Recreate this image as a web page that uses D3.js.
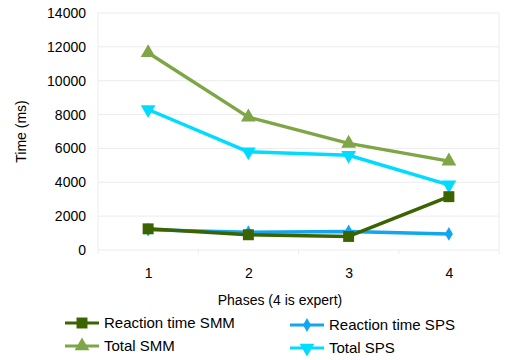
<!DOCTYPE html>
<html>
<head>
<meta charset="utf-8">
<script src="https://d3js.org/d3.v7.min.js"></script>
<style>
  body { margin: 0; background: #fff; }
  svg { display: block; font-family: "Liberation Sans", Arial, sans-serif; }
</style>
</head>
<body>
<div id="chart"></div>
<script>
'use strict';

// ─── DATA ────────────────────────────────────────────────────
var phases = [1, 2, 3, 4];
var yTicks = [0, 2000, 4000, 6000, 8000, 10000, 12000, 14000];
var reactionSMM = [1250, 900, 800, 3150];
var totalSMM = [11650, 7850, 6300, 5250];
var reactionSPS = [1200, 1050, 1100, 950];
var totalSPS = [8300, 5800, 5600, 3850];

var series = [
    { name: 'Reaction time SMM', values: reactionSMM, color: '#3b6300', symbol: 'square' },
    { name: 'Total SMM', values: totalSMM, color: '#7fa646', symbol: 'triangle' },
    { name: 'Reaction time SPS', values: reactionSPS, color: '#12a6ee', symbol: 'diamond' },
    { name: 'Total SPS', values: totalSPS, color: '#00dcff', symbol: 'down' }
];

// ─── LAYOUT ──────────────────────────────────────────────────
var W = 505, H = 360;
var plot = { left: 98, right: 499, top: 13, bottom: 250 };

var svg = d3.select('#chart').append('svg')
    .attr('width', W).attr('height', H);

var x = d3.scaleLinear().domain([0.5, 4.5]).range([plot.left, plot.right]);
var y = d3.scaleLinear().domain([0, 14000]).range([plot.bottom, plot.top]);

// gridlines
svg.append('g')
    .selectAll('line')
    .data(yTicks)
    .enter().append('line')
    .attr('x1', plot.left).attr('x2', plot.right)
    .attr('y1', function(d) { return y(d); })
    .attr('y2', function(d) { return y(d); })
    .attr('stroke', '#ececec').attr('stroke-width', 1);

// side borders
svg.append('line')
    .attr('x1', plot.left).attr('x2', plot.left)
    .attr('y1', plot.top).attr('y2', plot.bottom + 4)
    .attr('stroke', '#ececec');
svg.append('line')
    .attr('x1', plot.right).attr('x2', plot.right)
    .attr('y1', plot.top).attr('y2', plot.bottom + 4)
    .attr('stroke', '#ececec');

// x tick marks (between categories)
svg.append('g')
    .selectAll('line')
    .data([1.5, 2.5, 3.5])
    .enter().append('line')
    .attr('x1', function(d) { return x(d); })
    .attr('x2', function(d) { return x(d); })
    .attr('y1', plot.bottom).attr('y2', plot.bottom + 4)
    .attr('stroke', '#ececec');

// y axis labels
var yAxis = d3.axisLeft(y).tickValues(yTicks).tickFormat(d3.format('d')).tickSize(0).tickPadding(12);
var yg = svg.append('g')
    .attr('transform', 'translate(' + plot.left + ',0)')
    .call(yAxis);
yg.select('.domain').remove();
yg.selectAll('text')
    .attr('font-size', 14).attr('fill', '#000')
    .attr('font-family', '"Liberation Sans", Arial, sans-serif');

// x axis labels
var xAxis = d3.axisBottom(x).tickValues(phases).tickFormat(d3.format('d')).tickSize(0).tickPadding(18);
var xg = svg.append('g')
    .attr('transform', 'translate(0,' + plot.bottom + ')')
    .call(xAxis);
xg.select('.domain').remove();
xg.selectAll('text')
    .attr('font-size', 14).attr('fill', '#000')
    .attr('font-family', '"Liberation Sans", Arial, sans-serif');

// axis titles
svg.append('text')
    .attr('transform', 'translate(26,' + ((plot.top + plot.bottom) / 2) + ') rotate(-90)')
    .attr('text-anchor', 'middle')
    .attr('font-size', 14)
    .text('Time (ms)');

svg.append('text')
    .attr('x', 280).attr('y', 305)
    .attr('text-anchor', 'middle')
    .attr('font-size', 14)
    .text('Phases (4 is expert)');

// ─── MARKERS ─────────────────────────────────────────────────
function symbolPath(kind) {
    switch (kind) {
        case 'square': return d3.symbol().type(d3.symbolSquare).size(120)();
        case 'triangle': return d3.symbol().type(d3.symbolTriangle).size(95)();
        case 'diamond': return d3.symbol().type(d3.symbolDiamond).size(55)();
        case 'down': return d3.symbol().type(d3.symbolTriangle).size(95)();
    }
}
function symbolRotate(kind) { return kind === 'down' ? ' rotate(180)' : ''; }

var line = d3.line()
    .x(function(d, i) { return x(phases[i]); })
    .y(function(d) { return y(d); });

// draw order: reaction SPS first so SMM sits over it
var drawOrder = [series[2], series[3], series[1], series[0]];

drawOrder.forEach(function(s) {
    var g = svg.append('g');
    g.append('path')
        .datum(s.values)
        .attr('d', line)
        .attr('fill', 'none')
        .attr('stroke', s.color)
        .attr('stroke-width', 3.5)
        .attr('stroke-linejoin', 'round');
    g.selectAll('path.pt')
        .data(s.values)
        .enter().append('path')
        .attr('class', 'pt')
        .attr('d', symbolPath(s.symbol))
        .attr('transform', function(d, i) {
            return 'translate(' + x(phases[i]) + ',' + y(d) + ')' + symbolRotate(s.symbol);
        })
        .attr('fill', s.color);
});

// ─── LEGEND ──────────────────────────────────────────────────
var legendPos = [
    { x: 65, y: 323 },
    { x: 65, y: 346 },
    { x: 290, y: 325 },
    { x: 290, y: 348 }
];

series.forEach(function(s, i) {
    var p = legendPos[i];
    var g = svg.append('g').attr('transform', 'translate(' + p.x + ',' + p.y + ')');
    g.append('line')
        .attr('x1', 0).attr('x2', 34)
        .attr('y1', 0).attr('y2', 0)
        .attr('stroke', s.color).attr('stroke-width', 3);
    g.append('path')
        .attr('d', symbolPath(s.symbol))
        .attr('transform', 'translate(17,0)' + symbolRotate(s.symbol))
        .attr('fill', s.color);
    g.append('text')
        .attr('x', 39).attr('y', 5)
        .attr('font-size', 15)
        .text(s.name);
});
</script>
</body>
</html>
